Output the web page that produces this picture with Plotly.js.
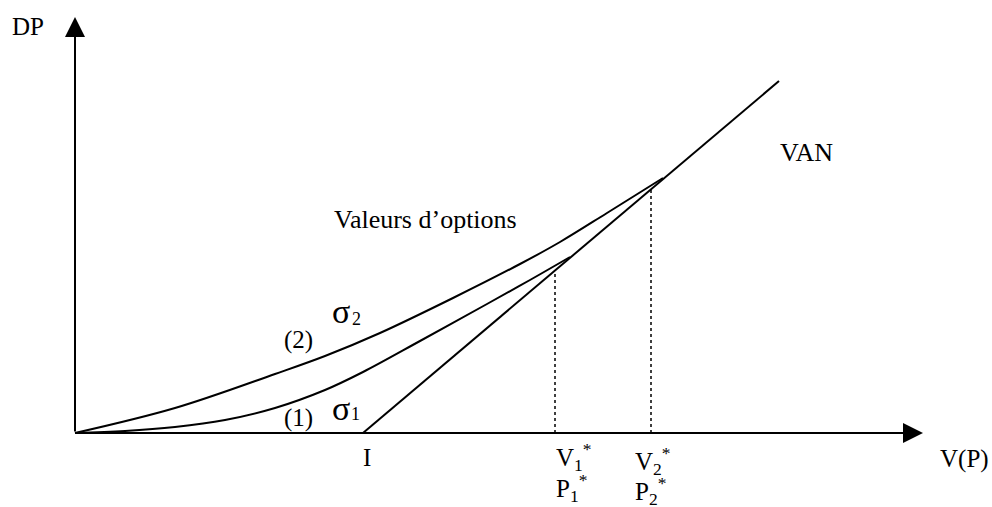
<!DOCTYPE html>
<html>
<head>
<meta charset="utf-8">
<script src="https://cdn.plot.ly/plotly-3.0.1.min.js"></script>
<style>html,body{margin:0;padding:0;background:#fff;}#chart{width:992px;height:507px;}</style>
</head>
<body>
<div id="chart"></div>
<script>
// Curve (2), sigma2 option value
const curve2X = [0, 1.00, 2.00, 2.50, 3.05, 3.78, 4.45, 4.85, 5.32, 5.88];
const curve2Y = [0, 0.25, 0.59, 0.77, 1.00, 1.35, 1.69, 1.91, 2.20, 2.55];
// Curve (1), sigma1 option value
const curve1X = [0, 0.50, 1.00, 1.50, 2.00, 2.50, 2.88, 3.45, 4.12, 4.55, 4.95];
const curve1Y = [0, 0.02, 0.06, 0.13, 0.25, 0.43, 0.61, 0.92, 1.29, 1.53, 1.76];
// VAN line (starts at I)
const vanX = [2.88, 7.04];
const vanY = [0, 3.52];
// thresholds V1*, V2*
const v1X = 4.80, v1Top = 1.61;
const v2X = 5.76, v2Top = 2.43;
// axis extents
const xAxisEnd = 8.48;
const yAxisEnd = 4.16;

const black = '#000000';
const serif = 'Liberation Serif, Times New Roman, serif';

const traces = [
  {x: curve2X, y: curve2Y, mode: 'lines', line: {color: black, width: 2, shape: 'spline', smoothing: 1}, hoverinfo: 'skip'},
  {x: curve1X, y: curve1Y, mode: 'lines', line: {color: black, width: 2, shape: 'spline', smoothing: 1}, hoverinfo: 'skip'},
  {x: vanX, y: vanY, mode: 'lines', line: {color: black, width: 2}, hoverinfo: 'skip'},
  {x: [v1X, v1X], y: [0, v1Top], mode: 'lines', line: {color: black, width: 1.5, dash: 'dot'}, hoverinfo: 'skip'},
  {x: [v2X, v2X], y: [0, v2Top], mode: 'lines', line: {color: black, width: 1.5, dash: 'dot'}, hoverinfo: 'skip'}
];

function lbl(text, x, y, size, xanchor) {
  return {text: text, x: x, y: y, xref: 'x', yref: 'y', showarrow: false,
          xanchor: xanchor || 'center', yanchor: 'middle',
          font: {family: serif, size: size || 25, color: black}};
}

const annotations = [
  // axes with arrowheads
  {x: xAxisEnd, y: 0, ax: 0, ay: 0, xref: 'x', yref: 'y', axref: 'x', ayref: 'y', text: '', showarrow: true,
   arrowhead: 2, arrowsize: 2, arrowwidth: 2, arrowcolor: black, standoff: 0},
  {x: 0, y: yAxisEnd, ax: 0, ay: 0, xref: 'x', yref: 'y', axref: 'x', ayref: 'y', text: '', showarrow: true,
   arrowhead: 2, arrowsize: 2, arrowwidth: 2, arrowcolor: black, standoff: 0},
  lbl('DP', -0.47, 4.07),
  lbl('V(P)', 8.89, -0.26),
  lbl('VAN', 7.31, 2.81, 26),
  lbl('Valeurs d\u2019options', 3.50, 2.14, 26),
  lbl('(2)', 2.23, 0.93),
  lbl('(1)', 2.23, 0.15),
  lbl('\u03c3', 2.66, 1.22, 34),
  lbl('2', 2.81, 1.14, 18),
  lbl('\u03c3', 2.66, 0.25, 34),
  lbl('1', 2.80, 0.19, 18),
  lbl('I', 2.92, -0.24),
  lbl('V<sub>1</sub><sup>*</sup>', 4.79, -0.24, 25, 'left'),
  lbl('P<sub>1</sub><sup>*</sup>', 4.79, -0.55, 25, 'left'),
  lbl('V<sub>2</sub><sup>*</sup>', 5.58, -0.28, 25, 'left'),
  lbl('P<sub>2</sub><sup>*</sup>', 5.58, -0.58, 25, 'left')
];

const layout = {
  width: 992, height: 507,
  margin: {l: 0, r: 0, t: 0, b: 0},
  paper_bgcolor: '#ffffff', plot_bgcolor: '#ffffff',
  showlegend: false,
  xaxis: {range: [-0.75, 9.17], visible: false, fixedrange: true},
  yaxis: {range: [-0.74, 4.33], visible: false, fixedrange: true},
  annotations: annotations
};

Plotly.newPlot('chart', traces, layout, {displayModeBar: false, staticPlot: true});
</script>
</body>
</html>
